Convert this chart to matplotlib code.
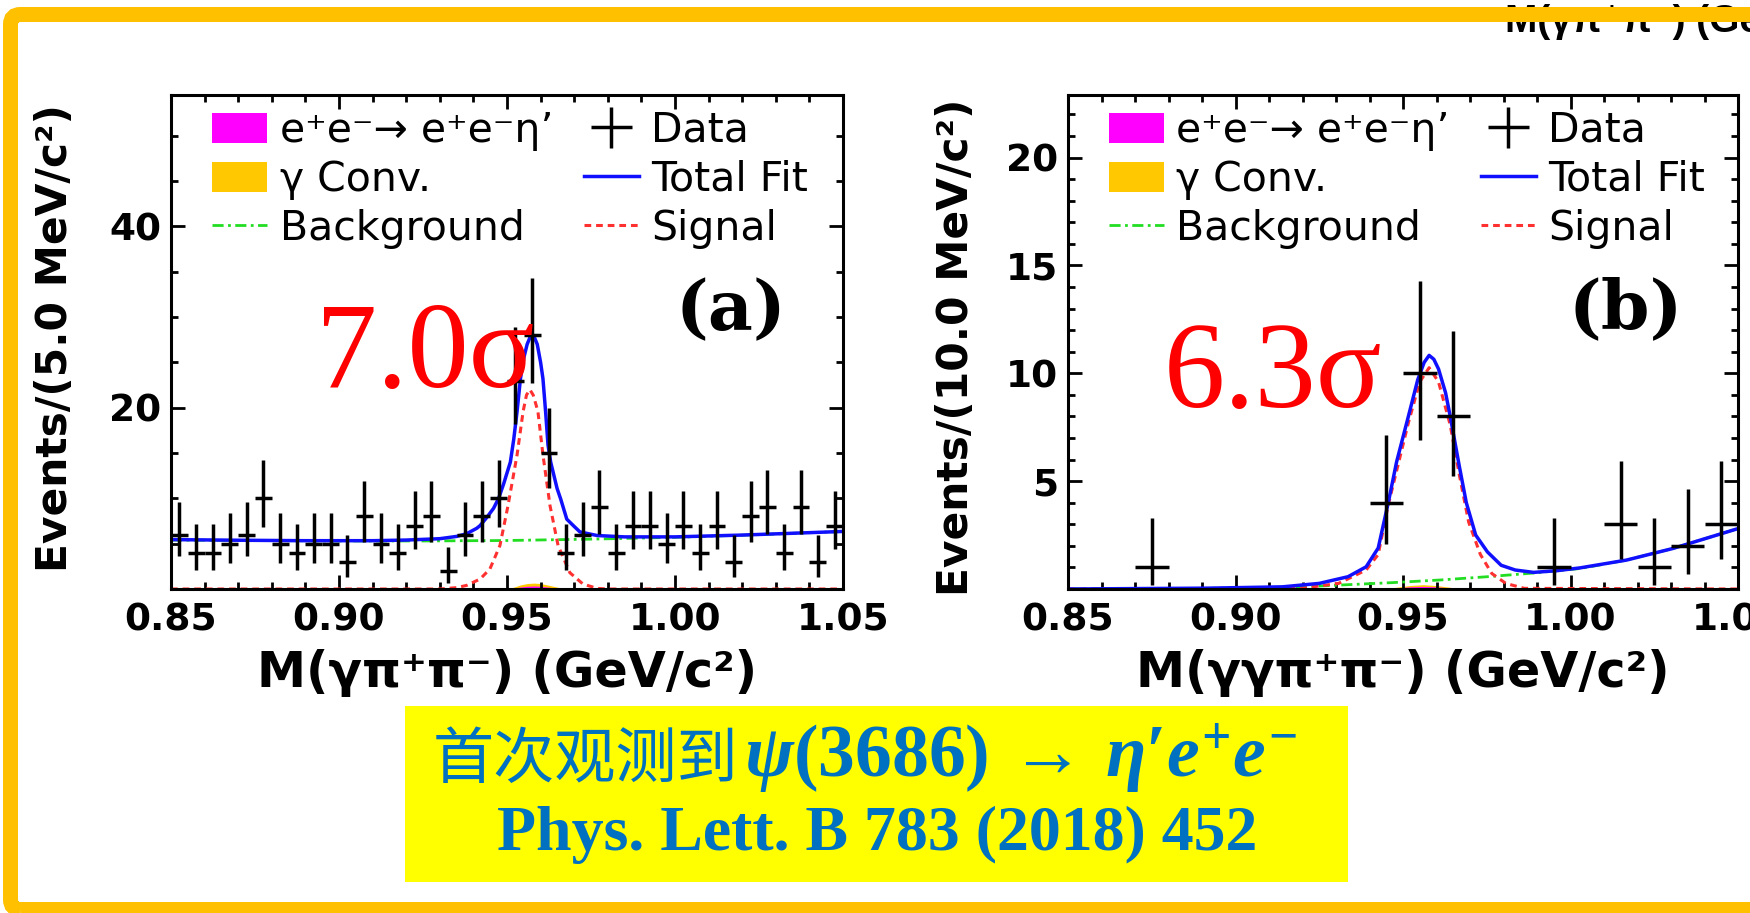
import matplotlib
matplotlib.use("Agg")
import matplotlib.pyplot as plt
from matplotlib.lines import Line2D
from matplotlib.patches import FancyBboxPatch, Patch, Rectangle
from matplotlib.ticker import MultipleLocator
from matplotlib.transforms import IdentityTransform

plt.rcParams["font.family"] = ["DejaVu Sans"]
plt.rcParams["mathtext.fontset"] = "custom"
plt.rcParams["mathtext.rm"] = "Liberation Serif:bold"
plt.rcParams["mathtext.bf"] = "Liberation Serif:bold"
plt.rcParams["mathtext.it"] = "Liberation Serif:italic:bold"

# ---- panel (a): M(gamma pi+ pi-), 5 MeV bins --------------------------------
bins_a = [round(0.8525 + 0.005 * i, 4) for i in range(40)]
counts_a = [6, 4, 4, 5, 6, 10, 5, 4, 5, 5, 3, 8, 5, 4, 7, 8, 2, 6, 8, 10,
            23, 28, 15, 4, 6, 9, 4, 7, 7, 5, 7, 4, 7, 3, 8, 9, 4, 9, 3, 7]

fit_x_a = [0.850, 0.870, 0.890, 0.910, 0.920, 0.930, 0.935, 0.938, 0.941, 0.942,
           0.944, 0.946, 0.9475, 0.949, 0.951, 0.952, 0.953, 0.954, 0.955, 0.956,
           0.957, 0.958, 0.959, 0.960, 0.9607, 0.9615, 0.9622, 0.963, 0.9649, 0.966,
           0.9678, 0.970, 0.9717, 0.9768, 0.985, 1.000, 1.020, 1.050]
total_a = [5.45, 5.38, 5.33, 5.33, 5.4, 5.55, 5.8, 6.1, 6.7, 7.0,
           7.9, 8.9, 10.0, 11.6, 14.0, 16.5, 19.6, 23.2, 25.5, 27.0,
           27.9, 27.9, 27.0, 25.0, 23.2, 19.5, 15.9, 14.0, 11.1, 9.9,
           7.7, 6.9, 6.3, 5.9, 5.75, 5.75, 5.95, 6.35]

bkg_x_a = [0.85, 0.875, 0.90, 0.925, 0.95, 0.975, 1.00, 1.025, 1.05]
bkg_a = [5.4, 5.35, 5.3, 5.3, 5.35, 5.5, 5.7, 6.0, 6.35]

sig_x_a = [0.85, 0.930, 0.935, 0.938, 0.942, 0.9449, 0.9479, 0.9503, 0.953, 0.9548,
           0.9558, 0.9568, 0.9578, 0.9592, 0.9607, 0.9628, 0.9652, 0.9687, 0.9726,
           0.9768, 0.980, 1.05]
sig_a = [0, 0, 0.15, 0.4, 1.1, 2.2, 4.8, 9.2, 14.8, 19.6,
         21.4, 22.0, 21.4, 19.6, 14.8, 9.2, 4.8, 1.8, 0.55,
         0.07, 0, 0]

bump_x_a = [0.950, 0.952, 0.954, 0.956, 0.958, 0.960, 0.962, 0.964, 0.966, 0.968]
conv_a = [0, 0.2, 0.45, 0.6, 0.65, 0.6, 0.45, 0.28, 0.12, 0]
mc_a = [0, 0.1, 0.22, 0.3, 0.33, 0.3, 0.22, 0.13, 0.05, 0]

# ---- panel (b): M(gamma gamma pi+ pi-), 10 MeV bins --------------------------
bins_b = [round(0.855 + 0.01 * i, 4) for i in range(20)]
counts_b = [0, 0, 1, 0, 0, 0, 0, 0, 0, 4, 10, 8, 0, 0, 1, 0, 3, 1, 2, 3]

fit_x_b = [0.85, 0.892, 0.914, 0.925, 0.9336, 0.939, 0.9426, 0.9456, 0.9481, 0.9516,
           0.9544, 0.9563, 0.9578, 0.9592, 0.9606, 0.9627, 0.9641, 0.9668, 0.9689,
           0.9717, 0.9752, 0.9793, 0.9835, 0.989, 0.996, 1.0029, 1.0167, 1.0306,
           1.0403, 1.05]
total_b = [0.0, 0.04, 0.1, 0.26, 0.57, 1.03, 1.9, 4.0, 5.9, 8.0,
           9.7, 10.5, 10.83, 10.65, 10.2, 9.1, 8.0, 5.7, 4.0,
           2.5, 1.72, 1.1, 0.88, 0.77, 0.85, 0.98, 1.34, 1.88,
           2.34, 2.8]

bkg_x_b = [0.85, 0.892, 0.9197, 0.9474, 0.9613, 0.9752, 0.989, 1.0029, 1.0167,
           1.0306, 1.0403, 1.05]
bkg_b = [0.0, 0.03, 0.1, 0.3, 0.42, 0.57, 0.74, 0.95, 1.34, 1.88, 2.34, 2.8]

sig_x_b = [0.85, 0.9197, 0.9308, 0.939, 0.9426, 0.9456, 0.9516, 0.955, 0.9578,
           0.9606, 0.9641, 0.9668, 0.9696, 0.9731, 0.9765, 0.9807, 0.9862, 1.05]
sig_b = [0, 0.03, 0.26, 0.88, 1.6, 3.9, 7.7, 9.6, 10.26,
         9.6, 7.6, 5.3, 3.1, 1.6, 0.72, 0.26, 0.03, 0]

bump_x_b = [0.944, 0.948, 0.952, 0.956, 0.960, 0.964, 0.968]
conv_b = [0, 0.08, 0.16, 0.2, 0.16, 0.08, 0]
mc_b = [0, 0.05, 0.1, 0.12, 0.1, 0.05, 0]

# Poisson (Garwood) 68% intervals used for the data error bars: n -> (low, high)
POISSON = {1: (0.83, 2.30), 2: (1.29, 2.64), 3: (1.63, 2.92), 4: (1.91, 3.16),
           5: (2.16, 3.38), 6: (2.38, 3.58), 7: (2.58, 3.77), 8: (2.77, 3.95),
           9: (2.94, 4.11), 10: (3.11, 4.27), 15: (3.82, 4.96), 23: (4.77, 5.86),
           28: (5.26, 6.34)}

xticks = [0.85, 0.90, 0.95, 1.00, 1.05]
xtick_labels = ["0.85", "0.90", "0.95", "1.00", "1.05"]
yticks_a = [20, 40]
yticks_b = [5, 10, 15, 20]

legend_labels = ["e⁺e⁻→ e⁺e⁻η’", "γ Conv.", "Background", "Data", "Total Fit", "Signal"]

MAGENTA = "#ff00ff"
ORANGE = "#ffc800"
GREEN = "#22dd22"
RED = "#ff3030"
BLUE = "#1010ff"
FRAME = "#ffc000"
TEXT_BLUE = "#0070c0"

GREEN_LS = (0, (4, 1.6, 1, 1.6))
RED_LS = (0, (2.2, 1.6))


def draw_panel(ax, centers, counts, half_bin, fx, total, bx, bkg, sx, sig, ux, conv, mc):
    ax.fill_between(ux, conv, color=ORANGE, lw=0, zorder=1)
    ax.fill_between(ux, mc, color=MAGENTA, lw=0, zorder=1.1)
    ax.plot(bx, bkg, color=GREEN, lw=2.0, ls=GREEN_LS, zorder=2)
    ax.plot(sx, sig, color=RED, lw=2.2, ls=RED_LS, zorder=2.2)
    ax.plot(fx, total, color=BLUE, lw=2.5, zorder=2.4)
    xs = [c for c, n in zip(centers, counts) if n > 0]
    ys = [n for n in counts if n > 0]
    lo = [POISSON[n][0] for n in ys]
    hi = [POISSON[n][1] for n in ys]
    data = ax.errorbar(xs, ys, xerr=half_bin, yerr=[lo, hi], fmt="none",
                       ecolor="black", elinewidth=2.5, capsize=0, zorder=3)

    handles = [
        Patch(facecolor=MAGENTA, edgecolor="none"),
        Patch(facecolor=ORANGE, edgecolor="none"),
        Line2D([], [], color=GREEN, lw=2.0, ls=GREEN_LS),
        data,
        Line2D([], [], color=BLUE, lw=2.5),
        Line2D([], [], color=RED, lw=2.2, ls=RED_LS),
    ]
    ax.legend(handles, legend_labels, ncol=2, loc="upper left",
              bbox_to_anchor=(0.061, 0.968), frameon=False, fontsize=29.5,
              borderpad=0, borderaxespad=0, labelspacing=0.22,
              handlelength=1.35, handleheight=0.75, handletextpad=0.3,
              columnspacing=0.75)

    ax.set_xlim(0.85, 1.05)
    ax.set_xticks(xticks, xtick_labels)
    ax.xaxis.set_minor_locator(MultipleLocator(0.01))
    ax.tick_params(which="both", direction="in", top=True, right=True, width=2.0,
                   labelsize=27)
    ax.tick_params(which="major", length=10)
    ax.tick_params(which="minor", length=5)
    ax.tick_params(axis="x", pad=10)
    ax.tick_params(axis="y", pad=7)
    for sp in ax.spines.values():
        sp.set_linewidth(2.2)


fig = plt.figure(figsize=(17.5, 9.13), dpi=100)
W, H = 1750, 913

ax_a = fig.add_axes([171 / W, 1 - 589 / H, 672 / W, 494 / H])
ax_b = fig.add_axes([1068 / W, 1 - 589 / H, 670 / W, 494 / H])

draw_panel(ax_a, bins_a, counts_a, 0.0025, fit_x_a, total_a, bkg_x_a, bkg_a,
           sig_x_a, sig_a, bump_x_a, conv_a, mc_a)
draw_panel(ax_b, bins_b, counts_b, 0.005, fit_x_b, total_b, bkg_x_b, bkg_b,
           sig_x_b, sig_b, bump_x_b, conv_b, mc_b)

ax_a.set_ylim(0, 54.5)
ax_a.set_yticks(yticks_a, [str(v) for v in yticks_a])
ax_a.yaxis.set_minor_locator(MultipleLocator(5))
ax_b.set_ylim(0, 22.9)
ax_b.set_yticks(yticks_b, [str(v) for v in yticks_b])
ax_b.yaxis.set_minor_locator(MultipleLocator(1))

for ax in (ax_a, ax_b):
    for t in ax.get_xticklabels() + ax.get_yticklabels():
        t.set_fontweight("bold")

ax_a.set_xlabel("M(γπ⁺π⁻) (GeV/c²)", fontsize=35.5, fontweight="bold", va="top")
ax_a.xaxis.set_label_coords(0.5, -0.122)
ax_a.set_ylabel("Events/(5.0 MeV/c²)", fontsize=30.5, fontweight="bold")
ax_a.yaxis.set_label_coords(-0.141, 0.508)

ax_b.set_xlabel("M(γγπ⁺π⁻) (GeV/c²)", fontsize=35.5, fontweight="bold", va="top")
ax_b.xaxis.set_label_coords(0.5, -0.122)
ax_b.set_ylabel("Events/(10.0 MeV/c²)", fontsize=30.5, fontweight="bold")
ax_b.yaxis.set_label_coords(-0.136, 0.49)

# panel tags and significances
ax_a.text(0.833, 0.563, "(a)", transform=ax_a.transAxes, ha="center", va="center",
          fontsize=50, fontweight="bold", family="DejaVu Serif")
ax_b.text(0.833, 0.565, "(b)", transform=ax_b.transAxes, ha="center", va="center",
          fontsize=50, fontweight="bold", family="DejaVu Serif")
ax_a.text(0.216, (589 - 387) / 494, "7.0σ", transform=ax_a.transAxes, ha="left",
          va="baseline", fontsize=88, family="Liberation Serif", color="red", zorder=10)
ax_b.text(0.143, (589 - 407) / 494, "6.3σ", transform=ax_b.transAxes, ha="left",
          va="baseline", fontsize=88, family="Liberation Serif", color="red", zorder=10)

# clipped label of the neighbouring plot at the top right
fig.text(1505 / W, 1 - 32 / H, "M(γπ⁺π⁻) (GeV/c²)", ha="left", va="baseline",
         fontsize=28, fontweight="bold", family=["Liberation Sans", "DejaVu Sans"])

# yellow caption box
fig.add_artist(Rectangle((405 / W, 1 - 882 / H), 943 / W, 176 / H,
                         transform=fig.transFigure, facecolor="#ffff00",
                         edgecolor="none", zorder=5))
fig.text(738 / W, 1 - 778 / H, "首次观测到", ha="right", va="baseline", fontsize=44,
         fontweight="light", family=["Noto Sans CJK SC"], color=TEXT_BLUE, zorder=6)
fig.text(744 / W, 1 - 777 / H, r"$\psi(3686)\,\rightarrow\,\eta\prime e^{+}e^{-}$",
         ha="left", va="baseline", fontsize=53, color=TEXT_BLUE, zorder=6)
fig.text(877 / W, 1 - 850 / H, "Phys. Lett. B 783 (2018) 452", ha="center",
         va="baseline", fontsize=46, fontweight="bold", family="Liberation Serif",
         color=TEXT_BLUE, zorder=6)

# orange slide frame (drawn in pixel units)
fig.add_artist(FancyBboxPatch((10.5, 3.5), 1780, 895,
                              boxstyle="round,pad=0,rounding_size=10",
                              transform=IdentityTransform(), facecolor="none",
                              edgecolor=FRAME, linewidth=15 * 72 / 100, zorder=20))

fig.savefig("out.png", dpi=100)
